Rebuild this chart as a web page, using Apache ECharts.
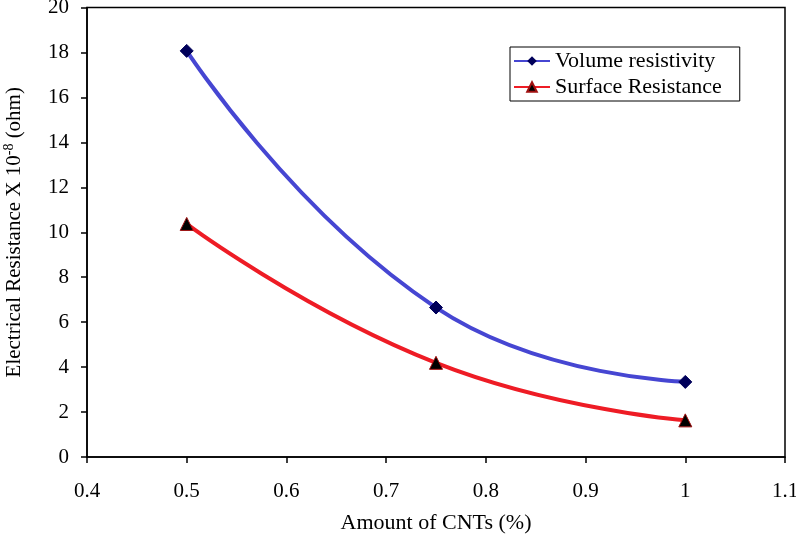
<!DOCTYPE html>
<html><head><meta charset="utf-8">
<script src="https://cdn.jsdelivr.net/npm/echarts@6/dist/echarts.min.js"></script>
<style>html,body{margin:0;padding:0;background:#fff}#c{width:796px;height:539px}</style>
</head><body><div id="c"></div>
<script>
var cntAmount = [0.5, 0.75, 1.0];
var volumeResistivity = [18.07, 6.65, 3.34];
var surfaceResistance = [10.37, 4.19, 1.63];
var seriesNames = ['Volume resistivity', 'Surface Resistance'];
var xTitle = 'Amount of CNTs (%)';

function pairs(xs, ys){ return xs.map(function(x,i){ return [x, ys[i]]; }); }
var font = 'Liberation Serif, Times New Roman, serif';
var chart = echarts.init(document.getElementById('c'));
chart.setOption({
  animation: false,
  backgroundColor: '#fff',
  grid: {left: 87, top: 7.5, right: 11, bottom: 82, show: true, borderColor: '#000', borderWidth: 1.5,
         containLabel: false, outerBoundsMode: 'none'},
  legend: {
    left: 510, top: 47, orient: 'vertical', itemGap: 4, padding: [3, 18, 3, 3],
    borderColor: '#000', borderWidth: 1, backgroundColor: '#fff',
    itemWidth: 36, itemHeight: 12,
    textStyle: {fontFamily: font, fontSize: 22, color: '#000'},
    data: seriesNames
  },
  xAxis: {
    type: 'value', min: 0.4, max: 1.1, interval: 0.1,
    name: xTitle, nameLocation: 'middle', nameGap: 55,
    nameTextStyle: {fontFamily: font, fontSize: 22, color: '#000'},
    axisLine: {lineStyle: {color: '#000', width: 1.5}},
    axisTick: {show: true, inside: false, length: 6, lineStyle: {color: '#000', width: 1.5}},
    axisLabel: {fontFamily: font, fontSize: 21, color: '#000', margin: 24,
      formatter: function(v){ return String(Math.round(v*10)/10); }},
    splitLine: {show: false}
  },
  yAxis: {
    type: 'value', min: 0, max: 20, interval: 2,
    name: '{a|Electrical Resistance X 10}{s|-8}{a| (ohm)}', nameLocation: 'middle', nameGap: 61,
    nameTextStyle: {rich: {
      a: {fontFamily: font, fontSize: 21, color: '#000'},
      s: {fontFamily: font, fontSize: 14, color: '#000', verticalAlign: 'top', padding: [0,0,10,0]}
    }},
    axisLine: {show: true, lineStyle: {color: '#000', width: 1.5}},
    axisTick: {show: true, inside: false, length: 6, lineStyle: {color: '#000', width: 1.5}},
    axisLabel: {fontFamily: font, fontSize: 21, color: '#000', margin: 18},
    splitLine: {show: false}
  },
  series: [
    {
      name: seriesNames[0], type: 'line', smooth: 0.5,
      data: pairs(cntAmount, volumeResistivity),
      symbol: 'diamond', symbolSize: 13,
      lineStyle: {color: '#4646d2', width: 4},
      itemStyle: {color: '#00005a', borderColor: '#00005a'},
      color: '#4646d2'
    },
    {
      name: seriesNames[1], type: 'line', smooth: 0.5,
      data: pairs(cntAmount, surfaceResistance),
      symbol: 'triangle', symbolSize: 13,
      lineStyle: {color: '#ee1c25', width: 4},
      itemStyle: {color: '#000', borderColor: '#a01010', borderWidth: 1},
      color: '#ee1c25'
    }
  ]
});
</script></body></html>
